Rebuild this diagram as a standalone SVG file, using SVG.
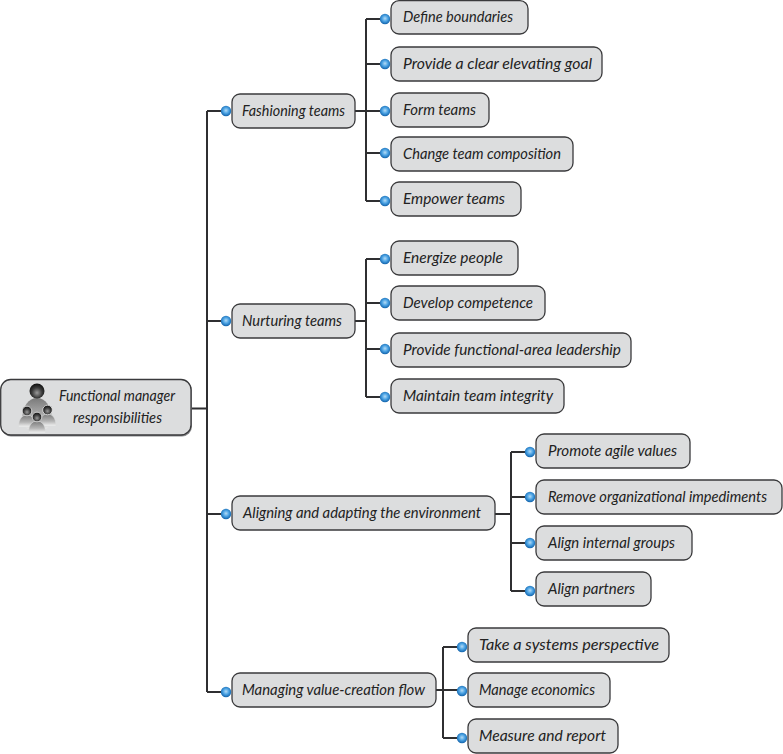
<svg xmlns="http://www.w3.org/2000/svg" width="783" height="754" viewBox="0 0 783 754">
<style>
.box{fill:#dcddde;stroke:#3a3a3c;stroke-width:1.3}
.shadow{fill:#8a8b8d}
.label{font-family:"Lato","Liberation Sans",sans-serif;font-size:15px;fill:#222;font-style:italic}
.wire{fill:none;stroke:#2f2f31;stroke-width:2}
</style>
<defs>
<radialGradient id="ball" cx="50%" cy="45%" r="55%"><stop offset="0" stop-color="#b5dbf5"/><stop offset="0.5" stop-color="#4ba3e4"/><stop offset="1" stop-color="#1263ab"/></radialGradient>
<radialGradient id="head" cx="50%" cy="62%" r="62%"><stop offset="0" stop-color="#9a9a9a"/><stop offset="0.55" stop-color="#3a3a3a"/><stop offset="1" stop-color="#0d0d0d"/></radialGradient>
<linearGradient id="body" x1="0" y1="0" x2="0" y2="1"><stop offset="0" stop-color="#7a7a7a"/><stop offset="0.6" stop-color="#b5b5b5"/><stop offset="1" stop-color="#f2f2f2"/></linearGradient>
<g id="dot"><circle r="5.200" fill="url(#ball)"/></g>
<g id="person"><path d="M-8.500 13C-8.500 5-5 1 0 1S8.500 5 8.500 13Z" fill="url(#body)" stroke="#dcddde" stroke-width="0.600"/><circle cy="-3" r="4.800" fill="url(#head)" stroke="#e8e8e8" stroke-width="0.800"/></g>
</defs>
<g id="connectors" class="wire">
<path d="M191 408.500H207M207 111V692M207 111H226M207 321H226M207 514H226M207 692H226"/>
<path d="M355 111H385M366 19V201M366 19H385M366 64H385M366 153H385M366 201H385"/>
<path d="M355 321H366M366 259V397M366 259H385M366 303H385M366 349H385M366 397H385"/>
<path d="M495 514H511M511 452V591M511 452H530M511 497H530M511 543H530M511 591H530"/>
<path d="M436 690H462M443 647V738M443 647H462M443 738H462"/>
</g>
<g id="root"><rect class="shadow" x="1" y="380.500" width="191" height="56" rx="10"/><rect class="box" x="0.700" y="379.500" width="190.300" height="55.500" rx="10"/>
<g id="root-icon"><path d="M22 420C22 406 29 398 37 398S52 406 52 420C52 427 44 431 37 431S22 427 22 420Z" fill="url(#body)"/><circle cx="37" cy="391" r="7.500" fill="url(#head)"/>
<use href="#person" x="27" y="414"/><use href="#person" x="47.500" y="413"/><use href="#person" x="37" y="420"/></g>
<text class="label" x="59" y="401" textLength="116" lengthAdjust="spacingAndGlyphs">Functional manager</text><text class="label" x="73" y="423" textLength="89" lengthAdjust="spacingAndGlyphs">responsibilities</text></g>
<g id="n1"><rect class="box" x="232" y="94" width="123" height="34" rx="8"/><text class="label" x="242" y="116" textLength="103" lengthAdjust="spacingAndGlyphs">Fashioning teams</text><use href="#dot" x="226" y="111"/></g>
<g id="n2"><rect class="box" x="232" y="304" width="123" height="34" rx="8"/><text class="label" x="242" y="326" textLength="100" lengthAdjust="spacingAndGlyphs">Nurturing teams</text><use href="#dot" x="226" y="321"/></g>
<g id="n3"><rect class="box" x="232" y="496" width="263" height="34" rx="8"/><text class="label" x="243" y="518" textLength="238" lengthAdjust="spacingAndGlyphs">Aligning and adapting the environment</text><use href="#dot" x="226" y="514"/></g>
<g id="n4"><rect class="box" x="232" y="673" width="204" height="34" rx="8"/><text class="label" x="242" y="695" textLength="183" lengthAdjust="spacingAndGlyphs">Managing value-creation flow</text><use href="#dot" x="226" y="692"/></g>
<g id="n1a"><rect class="box" x="391" y="0.700" width="137" height="33.300" rx="8"/><text class="label" x="403" y="22" textLength="110" lengthAdjust="spacingAndGlyphs">Define boundaries</text><use href="#dot" x="385" y="19"/></g>
<g id="n1b"><rect class="box" x="391" y="47" width="211" height="34" rx="8"/><text class="label" x="403" y="69" textLength="189" lengthAdjust="spacingAndGlyphs">Provide a clear elevating goal</text><use href="#dot" x="385" y="64"/></g>
<g id="n1c"><rect class="box" x="391" y="93" width="98" height="34" rx="8"/><text class="label" x="403" y="115" textLength="73" lengthAdjust="spacingAndGlyphs">Form teams</text><use href="#dot" x="385" y="111"/></g>
<g id="n1d"><rect class="box" x="391" y="137" width="182" height="34" rx="8"/><text class="label" x="403" y="159" textLength="158" lengthAdjust="spacingAndGlyphs">Change team composition</text><use href="#dot" x="385" y="153"/></g>
<g id="n1e"><rect class="box" x="391" y="182" width="130" height="34" rx="8"/><text class="label" x="403" y="204" textLength="102" lengthAdjust="spacingAndGlyphs">Empower teams</text><use href="#dot" x="385" y="201"/></g>
<g id="n2a"><rect class="box" x="391" y="241" width="127" height="34" rx="8"/><text class="label" x="403" y="263" textLength="100" lengthAdjust="spacingAndGlyphs">Energize people</text><use href="#dot" x="385" y="259"/></g>
<g id="n2b"><rect class="box" x="391" y="286" width="154" height="34" rx="8"/><text class="label" x="403" y="308" textLength="130" lengthAdjust="spacingAndGlyphs">Develop competence</text><use href="#dot" x="385" y="303"/></g>
<g id="n2c"><rect class="box" x="391" y="333" width="240" height="34" rx="8"/><text class="label" x="403" y="355" textLength="218" lengthAdjust="spacingAndGlyphs">Provide functional-area leadership</text><use href="#dot" x="385" y="349"/></g>
<g id="n2d"><rect class="box" x="391" y="379" width="173" height="34" rx="8"/><text class="label" x="403" y="401" textLength="150" lengthAdjust="spacingAndGlyphs">Maintain team integrity</text><use href="#dot" x="385" y="397"/></g>
<g id="n3a"><rect class="box" x="536" y="434" width="154" height="34" rx="8"/><text class="label" x="548" y="456" textLength="129" lengthAdjust="spacingAndGlyphs">Promote agile values</text><use href="#dot" x="530" y="452"/></g>
<g id="n3b"><rect class="box" x="536" y="480" width="246" height="34" rx="8"/><text class="label" x="548" y="502" textLength="219" lengthAdjust="spacingAndGlyphs">Remove organizational impediments</text><use href="#dot" x="530" y="497"/></g>
<g id="n3c"><rect class="box" x="536" y="526" width="156" height="34" rx="8"/><text class="label" x="548" y="548" textLength="127" lengthAdjust="spacingAndGlyphs">Align internal groups</text><use href="#dot" x="530" y="543"/></g>
<g id="n3d"><rect class="box" x="536" y="572" width="115" height="34" rx="8"/><text class="label" x="548" y="594" textLength="87" lengthAdjust="spacingAndGlyphs">Align partners</text><use href="#dot" x="530" y="591"/></g>
<g id="n4a"><rect class="box" x="468" y="628" width="201" height="34" rx="8"/><text class="label" x="479" y="650" textLength="180" lengthAdjust="spacingAndGlyphs">Take a systems perspective</text><use href="#dot" x="462" y="647"/></g>
<g id="n4b"><rect class="box" x="468" y="673" width="142" height="34" rx="8"/><text class="label" x="479" y="695" textLength="116" lengthAdjust="spacingAndGlyphs">Manage economics</text><use href="#dot" x="462" y="691"/></g>
<g id="n4c"><rect class="box" x="468" y="719" width="150" height="34" rx="8"/><text class="label" x="479" y="741" textLength="127" lengthAdjust="spacingAndGlyphs">Measure and report</text><use href="#dot" x="462" y="738"/></g>
</svg>
